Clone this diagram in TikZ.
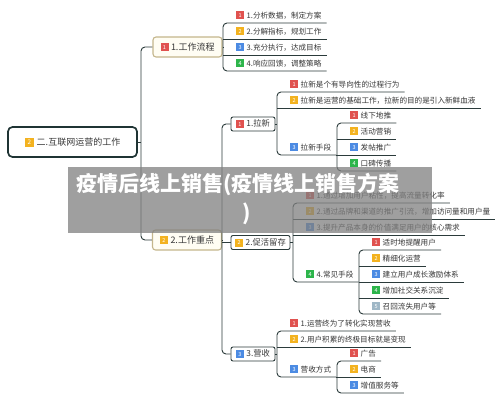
\documentclass[tikz,border=0pt]{standalone}
\usepackage{fontspec}
\newfontfamily\cjk{Noto Sans CJK SC}
\definecolor{lncol}{HTML}{2B3B3B}
\definecolor{bred}{HTML}{E0524F}
\definecolor{byel}{HTML}{F3B21F}
\definecolor{bblue}{HTML}{4C8BE3}
\definecolor{bgreen}{HTML}{2DB54B}
\definecolor{bgray}{HTML}{9FB7C6}
\definecolor{txt}{HTML}{383838}
\definecolor{tancol}{HTML}{C4B68C}
\definecolor{cream}{HTML}{FFFDF3}
\definecolor{rootln}{HTML}{1F3434}
\newcommand\bdg[2]{\raisebox{-1.1pt}{\setlength{\fboxsep}{0pt}\colorbox{#1}{\makebox[8pt]{\rule{0pt}{8pt}\raisebox{1.9pt}{\fontsize{5.5}{5.5}\selectfont\color{white}#2}}}}}
\newcommand\bdgL[2]{\raisebox{-1.4pt}{\setlength{\fboxsep}{0pt}\colorbox{#1}{\makebox[9pt]{\rule{0pt}{9pt}\raisebox{2.1pt}{\fontsize{6.3}{6.3}\selectfont\color{white}#2}}}}}
\newcommand\leaf[6]{\node[leaf] (#1) at ({#2+8},{#3}) {\bdg{#4}{#5}\hspace{2.5pt}#6};}
\tikzset{
 ln/.style={draw=lncol, line width=0.9pt},
 rc/.style={rounded corners=4pt},
 leaf/.style={font=\cjk\fontsize{7.6}{8}\selectfont, text=txt, inner xsep=5pt, inner ysep=0pt, text height=7pt, text depth=4.6pt, anchor=south west},
 lvA/.style={draw=tancol, fill=cream, line width=1.1pt, rounded corners=3pt, font=\cjk\fontsize{9}{10}\selectfont, text=txt, minimum width=69pt, minimum height=20pt, inner sep=1pt},
 lvB/.style={draw=lncol, fill=white, line width=0.9pt, rounded corners=2pt, font=\cjk\fontsize{8.3}{9}\selectfont, text=txt, minimum height=14pt, inner sep=1pt},
 rootbox/.style={draw=rootln, fill=white, line width=1.7pt, rounded corners=4.5pt, font=\cjk\fontsize{9}{10}\selectfont, text=txt, minimum width=129pt, minimum height=30pt},
 bantxt/.style={font=\cjk\bfseries\fontsize{21}{21}\selectfont, text=white, inner sep=0pt}
}
\begin{document}
\begin{tikzpicture}[x=1pt,y=-1pt]
\fill[white] (0,0) rectangle (500,401);
\useasboundingbox (0,0) rectangle (500,401);
% main nodes
\node[rootbox] (root) at (72.5,142) {\bdgL{byel}{2}\hspace{3pt}二.互联网运营的工作};
\node[lvA] (wf) at (187.5,47) {\bdg{bred}{1}\hspace{2.5pt}1.工作流程};
\node[lvA] (zd) at (187,240) {\bdg{byel}{2}\hspace{2.5pt}2.工作重点};
% work flow
\leaf{wf1}{223}{23}{bred}{1}{1.分析数据，制定方案}
\leaf{wf2}{223}{39}{byel}{2}{2.分解指标，规划工作}
\leaf{wf3}{223}{55}{bblue}{3}{3.充分执行，达成目标}
\leaf{wf4}{223}{71}{bgreen}{4}{4.响应回馈，调整策略}
% level 2
\node[lvB, minimum width=44pt] (lx) at (253,124) {\bdg{bred}{1}\hspace{2.5pt}1.拉新};
\node[lvB, minimum width=59pt] (ch) at (260.5,242.5) {\bdg{byel}{2}\hspace{2.5pt}2.促活留存};
\node[lvB, minimum width=44pt] (ys) at (253,354) {\bdg{bblue}{3}\hspace{2.5pt}3.营收};
% la xin
\leaf{lx1}{277}{92}{bred}{1}{拉新是个有导向性的过程行为}
\leaf{lx2}{277}{108}{byel}{2}{拉新是运营的基础工作，拉新的目的是引入新鲜血液}
\leaf{lx3}{277}{155}{bblue}{3}{拉新手段}
\leaf{sd1}{337}{123}{bred}{1}{线下地推}
\leaf{sd2}{337}{139}{byel}{2}{活动营销}
\leaf{sd3}{337}{155}{bblue}{3}{发帖推广}
\leaf{sd4}{337}{171}{bgreen}{4}{口碑传播}
% cu huo
\leaf{ch1}{293}{203}{bred}{1}{1.通过增加用户粘性，提高流量转化率}
\leaf{ch2}{293}{219}{byel}{2}{2.通过品牌和渠道的推广引流，增加访问量和用户量}
\leaf{ch3}{293}{235}{bblue}{3}{3.提升产品本身的价值满足用户的核心需求}
\leaf{ch4}{293}{282}{bgreen}{4}{4.常见手段}
\leaf{sj1}{359}{250}{bred}{1}{适时地提醒用户}
\leaf{sj2}{359}{266}{byel}{2}{精细化运营}
\leaf{sj3}{359}{282}{bblue}{3}{建立用户成长激励体系}
\leaf{sj4}{359}{298}{bgreen}{4}{增加社交关系沉淀}
\leaf{sj5}{359}{314}{bgray}{5}{召回流失用户等}
% ying shou
\leaf{ys1}{277}{331}{bred}{1}{1.运营终为了转化实现营收}
\leaf{ys2}{277}{347}{byel}{2}{2.用户积累的终极目标就是变现}
\leaf{ys3}{277}{377}{bblue}{3}{营收方式}
\leaf{fs1}{337}{361}{bred}{1}{广告}
\leaf{fs2}{337}{377}{byel}{2}{电商}
\leaf{fs3}{337}{393}{bblue}{3}{增值服务等}
% connectors
\draw[ln] (root.east) -- (141,142);
\draw[ln,rc] (wf.west) -- (141,47) -- (141,240) -- (zd.west);
\draw[ln] (wf.east) -- (223,47);
\draw[ln,rc] (wf1.south east) -- (223,23) -- (223,71) -- (wf4.south east);
\draw[ln] (223,39) -- (wf2.south east);
\draw[ln] (223,55) -- (wf3.south east);
\draw[ln] (zd.east) -- (222,240);
\draw[ln,rc] (lx.west) -- (222,124) -- (222,354) -- (ys.west);
\draw[ln] (222,242.5) -- (ch.west);
\draw[ln] (lx.east) -- (277,124);
\draw[ln,rc] (lx1.south east) -- (277,92) -- (277,155) -- (lx3.south east);
\draw[ln] (277,108) -- (lx2.south east);
\draw[ln] (lx3.south east) -- (337,155);
\draw[ln,rc] (sd1.south east) -- (337,123) -- (337,171) -- (sd4.south east);
\draw[ln] (337,139) -- (sd2.south east);
\draw[ln] (337,155) -- (sd3.south east);
\draw[ln] (ch.east) -- (293,242.5);
\draw[ln,rc] (ch1.south east) -- (293,203) -- (293,282) -- (ch4.south east);
\draw[ln] (293,219) -- (ch2.south east);
\draw[ln] (293,235) -- (ch3.south east);
\draw[ln] (ch4.south east) -- (359,282);
\draw[ln,rc] (sj1.south east) -- (359,250) -- (359,314) -- (sj5.south east);
\draw[ln] (359,266) -- (sj2.south east);
\draw[ln] (359,282) -- (sj3.south east);
\draw[ln] (359,298) -- (sj4.south east);
\draw[ln] (ys.east) -- (277,354);
\draw[ln,rc] (ys1.south east) -- (277,331) -- (277,377) -- (ys3.south east);
\draw[ln] (277,347) -- (ys2.south east);
\draw[ln] (ys3.south east) -- (337,377);
\draw[ln,rc] (fs1.south east) -- (337,361) -- (337,393) -- (fs3.south east);
\draw[ln] (337,377) -- (fs2.south east);
% banner
\fill[black!50, opacity=0.75] (68,167) rectangle (432,233);
\node[bantxt, anchor=west] (bt1) at (76,184) {疫情后线上销售(疫情线上销售方案};
\node[bantxt] (bt2) at (247,214) {)};
\end{tikzpicture}
\end{document}
